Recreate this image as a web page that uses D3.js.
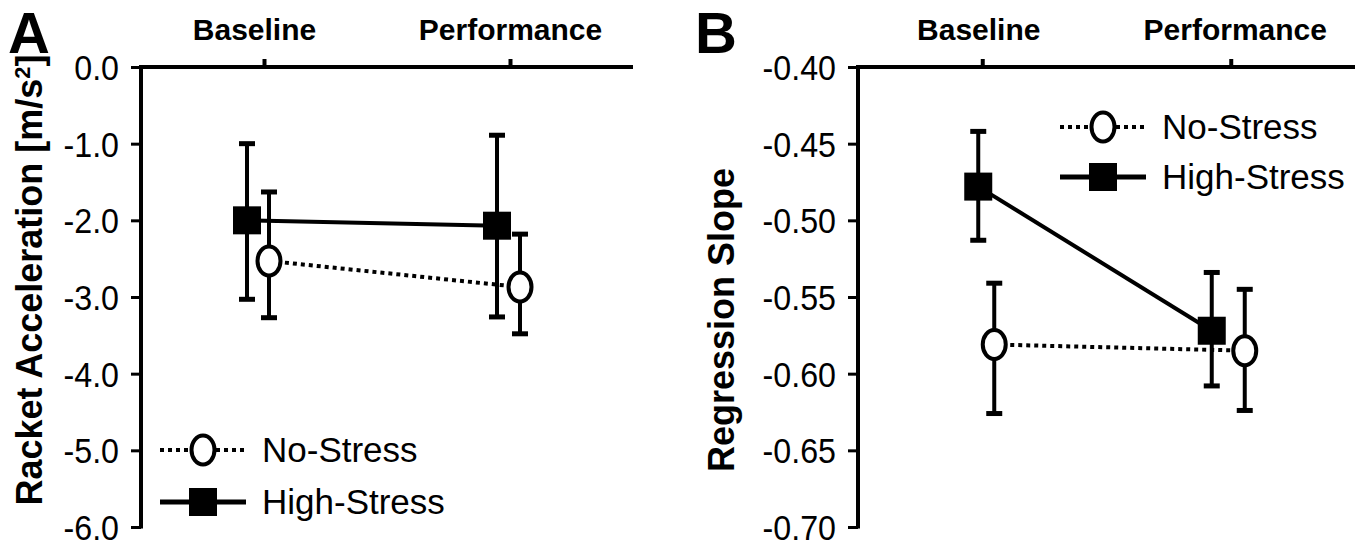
<!DOCTYPE html>
<html>
<head>
<meta charset="utf-8">
<script src="https://cdn.jsdelivr.net/npm/d3@7"></script>
<style>
  body { margin: 0; background: #fff; }
  svg text { fill: #000; font-family: "Liberation Sans", Arial, sans-serif; }
  .tick-label { font-size: 35px; }
  .cat-label { font-weight: bold; font-size: 30px; }
  .axis-title { font-weight: bold; font-size: 36px; }
  .panel-letter { font-weight: bold; font-size: 58px; }
  .legend-label { font-size: 35px; }
</style>
</head>
<body>
<svg id="chart" width="1369" height="548"></svg>
<script>
"use strict";

var categories = ['Baseline', 'Performance'];
var seriesNames = ['No-Stress', 'High-Stress'];

// panel A: racket acceleration [m/s2]
var accelTicks = [0, -1, -2, -3, -4, -5, -6];
var accelNoStress = [-2.53, -2.87];
var accelNoStressHigh = [-1.63, -2.18];
var accelNoStressLow = [-3.27, -3.48];
var accelHighStress = [-2.0, -2.07];
var accelHighStressHigh = [-1.0, -0.89];
var accelHighStressLow = [-3.03, -3.26];

// panel B: regression slope
var slopeTicks = [-0.40, -0.45, -0.50, -0.55, -0.60, -0.65, -0.70];
var slopeNoStress = [-0.581, -0.585];
var slopeNoStressHigh = [-0.541, -0.545];
var slopeNoStressLow = [-0.626, -0.624];
var slopeHighStress = [-0.478, -0.572];
var slopeHighStressHigh = [-0.442, -0.534];
var slopeHighStressLow = [-0.513, -0.608];

var svg = d3.select('#chart');

// the original uses a condensed face, squeeze the glyphs a bit
function condense(selection, factor) {
    selection.each(function() {
        var w = this.getComputedTextLength();
        d3.select(this)
            .attr('textLength', w * factor)
            .attr('lengthAdjust', 'spacingAndGlyphs');
    });
}

function drawMarker(g, type, cx, cy) {
    if (type === 'circle') {
        g.append('ellipse')
            .attr('cx', cx).attr('cy', cy)
            .attr('rx', 11.5).attr('ry', 14.5)
            .attr('fill', '#fff')
            .attr('stroke', '#000')
            .attr('stroke-width', 4);
    } else {
        g.append('rect')
            .attr('x', cx - 14).attr('y', cy - 14)
            .attr('width', 28).attr('height', 28)
            .attr('fill', '#000');
    }
}

function drawPanel(opts) {

    var g = svg.append('g');

    var x = d3.scalePoint()
        .domain(categories)
        .range([opts.left, opts.right])
        .padding(0.5);

    var y = d3.scaleLinear()
        .domain([opts.ticks[opts.ticks.length - 1], opts.ticks[0]])
        .range([opts.bottom, opts.top]);

    // left axis
    var yAxis = d3.axisLeft(y)
        .tickValues(opts.ticks)
        .tickFormat(function(d) { return d3.format(opts.format)(d).replace('\u2212', '-'); })
        .tickSize(10)
        .tickPadding(12);

    var ya = g.append('g')
        .attr('transform', 'translate(' + opts.left + ',0)')
        .call(yAxis);
    ya.select('.domain').remove();
    ya.selectAll('.tick line').attr('stroke', '#000').attr('stroke-width', 3);
    ya.selectAll('.tick text')
        .attr('class', 'tick-label')
        .attr('font-size', null)
        .attr('font-family', null)
        .attr('dy', '0.36em')
        .call(condense, 0.92);

    g.append('line')
        .attr('x1', opts.left).attr('x2', opts.left)
        .attr('y1', opts.top - 1.5).attr('y2', opts.bottom + 1.5)
        .attr('stroke', '#000').attr('stroke-width', 4);

    // top axis with categories
    var xAxis = d3.axisTop(x).tickSize(8).tickPadding(19);
    var xa = g.append('g')
        .attr('transform', 'translate(0,' + opts.top + ')')
        .call(xAxis);
    xa.select('.domain').remove();
    xa.selectAll('.tick line').attr('stroke', '#000').attr('stroke-width', 4);
    xa.selectAll('.tick text')
        .attr('class', 'cat-label')
        .attr('font-size', null)
        .attr('font-family', null)
        .attr('dx', function(d, i) { return opts.labelShift[i]; });

    g.append('line')
        .attr('x1', opts.left - 2).attr('x2', opts.right)
        .attr('y1', opts.top).attr('y2', opts.top)
        .attr('stroke', '#000').attr('stroke-width', 4);

    // axis title and panel letter
    g.append('text')
        .attr('class', 'axis-title')
        .attr('text-anchor', 'middle')
        .attr('transform', 'translate(' + opts.titleX + ',' + opts.titleY + ') rotate(-90)')
        .html(opts.title);

    g.append('text')
        .attr('class', 'panel-letter')
        .attr('x', opts.letterX)
        .attr('y', 53)
        .text(opts.letter);

    var series = [
        { name: seriesNames[0], mean: opts.noStress, hi: opts.noStressHigh, lo: opts.noStressLow, dodge: opts.dodgeNo, dashed: true, marker: 'circle' },
        { name: seriesNames[1], mean: opts.highStress, hi: opts.highStressHigh, lo: opts.highStressLow, dodge: opts.dodgeHigh, dashed: false, marker: 'square' }
    ];

    function px(s, i) { return x(categories[i]) + s.dodge[i]; }

    // connecting lines
    series.forEach(function(s) {
        var line = d3.line()
            .x(function(d, i) { return px(s, i); })
            .y(function(d) { return y(d); });
        g.append('path')
            .datum(s.mean)
            .attr('d', line)
            .attr('fill', 'none')
            .attr('stroke', '#000')
            .attr('stroke-width', 4)
            .attr('stroke-dasharray', s.dashed ? '4,4' : null);
    });

    // error bars
    series.forEach(function(s) {
        var eb = g.append('g');
        s.mean.forEach(function(m, i) {
            var cx = px(s, i);
            eb.append('line')
                .attr('x1', cx).attr('x2', cx)
                .attr('y1', y(s.hi[i])).attr('y2', y(s.lo[i]))
                .attr('stroke', '#000').attr('stroke-width', 4);
            [s.hi[i], s.lo[i]].forEach(function(v) {
                eb.append('line')
                    .attr('x1', cx - 8).attr('x2', cx + 8)
                    .attr('y1', y(v)).attr('y2', y(v))
                    .attr('stroke', '#000').attr('stroke-width', 5);
            });
        });
    });

    // markers
    series.forEach(function(s) {
        s.mean.forEach(function(m, i) {
            drawMarker(g, s.marker, px(s, i), y(m));
        });
    });

    // legend
    series.forEach(function(s, i) {
        var ly = opts.legendY + i * opts.legendGap;
        var lg = g.append('g');
        lg.append('line')
            .attr('x1', opts.legendX).attr('x2', opts.legendX + 86)
            .attr('y1', ly).attr('y2', ly)
            .attr('stroke', '#000')
            .attr('stroke-width', s.dashed ? 4 : 5)
            .attr('stroke-dasharray', s.dashed ? '4,4' : null);
        drawMarker(lg, s.marker, opts.legendX + 43, ly);
        lg.append('text')
            .attr('class', 'legend-label')
            .attr('x', opts.legendX + 102)
            .attr('y', ly + 12)
            .text(s.name);
    });
}

drawPanel({
    letter: 'A', letterX: 8,
    left: 141, right: 633, top: 67, bottom: 527,
    ticks: accelTicks, format: '.1f',
    title: 'Racket Acceleration [m/s<tspan dy="-12" font-size="22">2</tspan><tspan dy="12">]</tspan>',
    titleX: 42, titleY: 280,
    labelShift: [-10, 0],
    noStress: accelNoStress, noStressHigh: accelNoStressHigh, noStressLow: accelNoStressLow,
    highStress: accelHighStress, highStressHigh: accelHighStressHigh, highStressLow: accelHighStressLow,
    dodgeNo: [5, 10], dodgeHigh: [-17, -13],
    legendX: 160, legendY: 450, legendGap: 52
});

drawPanel({
    letter: 'B', letterX: 695,
    left: 858, right: 1355, top: 67, bottom: 527,
    ticks: slopeTicks, format: '.2f',
    title: 'Regression Slope',
    titleX: 734, titleY: 320,
    labelShift: [-4, 4],
    noStress: slopeNoStress, noStressHigh: slopeNoStressHigh, noStressLow: slopeNoStressLow,
    highStress: slopeHighStress, highStressHigh: slopeHighStressHigh, highStressLow: slopeHighStressLow,
    dodgeNo: [12, 14], dodgeHigh: [-4, -19],
    legendX: 1060, legendY: 127, legendGap: 50
});
</script>
</body>
</html>
